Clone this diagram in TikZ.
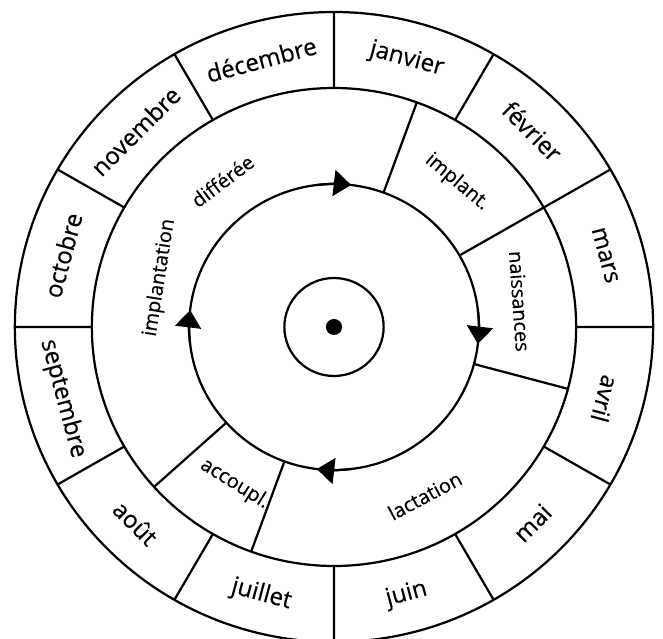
\documentclass[tikz,border=0pt]{standalone}
\usepackage{fontspec}
\setmainfont{Open Sans}[FakeBold=0.4]
\usetikzlibrary{arrows.meta}
\definecolor{Ink}{HTML}{000000}
\tikzset{
  ring/.style={draw=Ink,line width=1.9pt},
  spoke/.style={draw=Ink,line width=1.9pt},
  month/.style={font=\fontsize{20.5}{24}\selectfont,text=Ink,inner sep=0pt},
  phase/.style={font=\fontsize{17}{20}\selectfont,text=Ink,inner sep=0pt},
  arr/.style={-{Triangle[length=0.52cm,width=0.78cm]},draw=Ink,line width=1.9pt}
}

\begin{document}
\begin{tikzpicture}[x=0.03039cm,y=0.03cm]
  \useasboundingbox (-10.02cm,-9.36cm) rectangle (9.87cm,9.81cm);
  % rings
  \draw[ring] (0,0) circle (315);
  \draw[ring] (0,0) circle (239);
  \draw[ring] (0,0) circle (143);
  \draw[ring] (0,0) circle (49);
  \fill[Ink] (0,0) circle (8);
  % month spokes
  \draw[spoke] (90:239) -- (90:315) (60:239) -- (60:315) (30:239) -- (30:315)
    (0:239) -- (0:315) (-30:239) -- (-30:315) (-60:239) -- (-60:315)
    (-90:239) -- (-90:315) (-120:239) -- (-120:315) (-150:239) -- (-150:315)
    (180:239) -- (180:315) (150:239) -- (150:315) (120:239) -- (120:315);
  % phase spokes
  \draw[spoke] (70:143) -- (70:239) (30:143) -- (30:239) (-15:143) -- (-15:239)
    (-110:143) -- (-110:239) (-138:143) -- (-138:239);
  % months
  \node[month,rotate=-15] (janvier) at (75:277) {janvier};
  \node[month,rotate=-45] (fevrier) at (45:277) {février};
  \node[month,rotate=-75] (mars) at (15:277) {mars};
  \node[month,rotate=-105] (avril) at (-15:277) {avril};
  \node[month,rotate=45] (mai) at (-45:277) {mai};
  \node[month,rotate=15] (juin) at (-75:277) {juin};
  \node[month,rotate=-15] (juillet) at (-105:277) {juillet};
  \node[month,rotate=-45] (aout) at (-135:277) {août};
  \node[month,rotate=-75] (septembre) at (-165:277) {septembre};
  \node[month,rotate=75] (octobre) at (165:277) {octobre};
  \node[month,rotate=45] (novembre) at (135:277) {novembre};
  \node[month,rotate=15] (decembre) at (105:277) {décembre};
  % phases
  \node[phase,rotate=-40] (implant) at (50:189) {implant.};
  \node[phase,rotate=-86] (naissances) at (8:185) {naissances};
  \node[phase,rotate=28] (lactation) at (-62:191) {lactation};
  \node[phase,rotate=-32] (accoupl) at (-122:185) {accoupl.};
  \node[phase,rotate=81] (implantation) at (164:179) {implantation};
  \node[phase,rotate=37] (differee) at (127:183) {différée};
  % cycle arrows
  \draw[arr] (97:143) arc[start angle=97,end angle=83.2,radius=143];
  \draw[arr] (7:143) arc[start angle=7,end angle=-6.8,radius=143];
  \draw[arr] (-83:143) arc[start angle=-83,end angle=-96.8,radius=143];
  \draw[arr] (187:143) arc[start angle=187,end angle=173.2,radius=143];
\end{tikzpicture}
\end{document}
